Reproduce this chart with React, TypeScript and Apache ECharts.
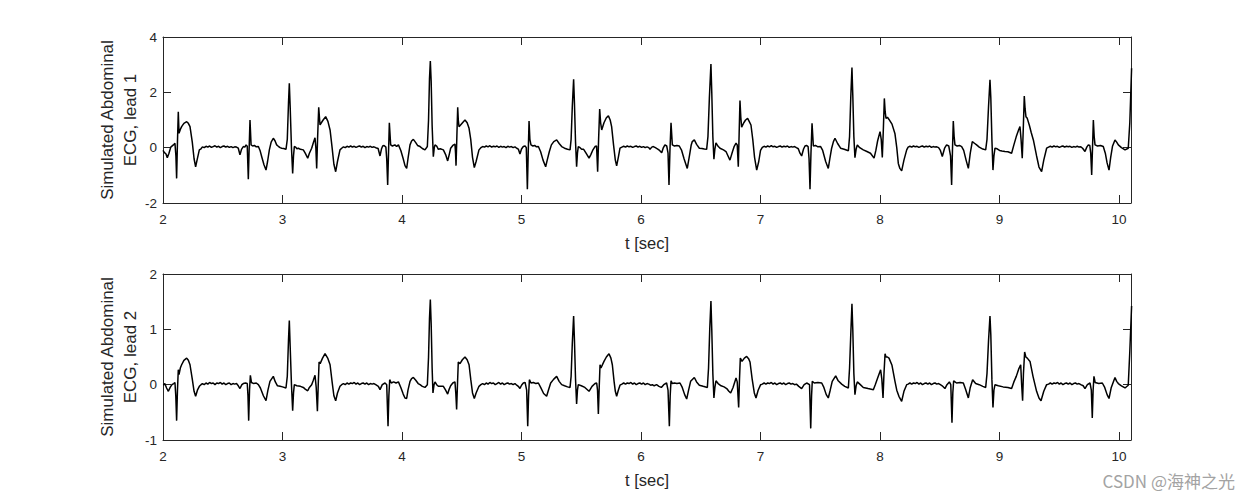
import React, { useEffect, useRef } from "react";
import * as echarts from "echarts";

// Simulated abdominal ECG, lead 1 : [t (sec), amplitude]
const lead1: [number, number][] = [
  [2.0,-0.1],[2.012,-0.18],[2.024,-0.22],[2.036,-0.36],[2.05,-0.2],[2.065,0.02],[2.087,0.1],[2.1,0.16],[2.108,-0.3],[2.114,-1.11],[2.121,0.2],[2.128,1.3],[2.134,0.52],[2.145,0.66],[2.156,0.76],[2.175,0.88],[2.198,0.94],[2.212,0.88],[2.226,0.76],[2.245,0.2],[2.26,-0.4],[2.273,-0.69],[2.285,-0.45],[2.304,-0.08],[2.318,-0.04],
  [2.33,0.03],[2.345,0.0],[2.36,0.05],[2.375,0.02],[2.39,0.06],[2.405,0.01],[2.42,0.04],[2.435,0.07],[2.45,0.02],[2.465,0.05],[2.48,0.0],[2.495,0.04],[2.51,0.06],[2.525,0.02],[2.54,0.05],[2.555,0.01],[2.57,0.04],[2.585,0.0],[2.6,0.03],[2.615,0.02],[2.63,-0.02],
  [2.644,-0.26],[2.658,-0.05],[2.672,0.04],[2.685,0.02],[2.695,0.1],[2.705,0.05],[2.714,-1.14],[2.721,0.0],[2.728,1.0],[2.737,0.1],[2.75,0.06],[2.765,0.08],[2.78,0.03],[2.798,0.04],[2.812,-0.1],[2.826,-0.33],[2.845,-0.62],[2.862,-0.81],[2.875,-0.5],[2.89,-0.08],[2.905,0.2],[2.923,0.34],[2.937,0.25],[2.951,0.1],[2.965,0.05],[2.98,0.0],[2.993,-0.02],[3.01,-0.03],[3.029,-0.06],[3.04,0.3],[3.05,1.6],[3.057,2.33],[3.064,1.5],[3.075,0.0],[3.085,-0.93],[3.092,-0.3],[3.099,0.04],[3.11,0.02],[3.12,-0.04],[3.133,-0.02],[3.15,-0.06],[3.174,-0.08],[3.19,-0.2],[3.211,-0.38],[3.225,-0.2],[3.244,-0.02],[3.258,0.18],[3.272,0.36],[3.279,0.0],[3.286,-0.75],[3.294,0.4],[3.303,1.46],[3.309,1.1],[3.314,0.82],[3.325,0.9],[3.34,1.0],[3.361,1.12],[3.38,0.95],[3.398,0.64],[3.415,0.0],[3.43,-0.6],[3.445,-0.87],[3.46,-0.5],[3.481,-0.08],[3.495,-0.02],
  [3.51,0.03],[3.525,0.0],[3.54,0.05],[3.555,0.02],[3.57,0.06],[3.585,0.02],[3.6,0.05],[3.615,0.01],[3.63,0.04],[3.645,0.06],[3.66,0.02],[3.675,0.05],[3.69,0.0],[3.705,0.04],[3.72,0.02],[3.735,0.05],[3.75,0.01],[3.765,0.03],[3.78,0.0],[3.8,-0.03],
  [3.816,-0.3],[3.828,-0.05],[3.838,0.06],[3.85,0.08],[3.865,0.02],[3.872,-0.4],[3.88,-1.35],[3.887,-0.2],[3.894,0.9],[3.905,0.1],[3.92,0.06],[3.94,0.1],[3.955,0.04],[3.97,0.1],[3.99,-0.1],[4.01,-0.4],[4.025,-0.65],[4.039,-0.75],[4.05,-0.4],[4.067,0.1],[4.08,0.24],[4.095,0.3],[4.115,0.18],[4.13,0.08],[4.151,0.04],[4.17,-0.03],[4.192,-0.08],[4.212,0.04],[4.222,1.0],[4.23,2.5],[4.237,3.13],[4.244,2.4],[4.252,0.8],[4.262,-0.33],[4.27,0.0],[4.276,0.1],[4.29,0.06],[4.304,-0.06],[4.32,-0.04],[4.346,-0.08],[4.365,-0.25],[4.382,-0.48],[4.395,-0.25],[4.407,-0.02],[4.425,0.08],[4.443,0.13],[4.448,-0.2],[4.452,-0.65],[4.459,0.4],[4.466,1.46],[4.471,1.0],[4.477,0.76],[4.49,0.82],[4.51,0.92],[4.527,1.0],[4.545,0.9],[4.561,0.7],[4.575,0.3],[4.59,-0.35],[4.605,-0.72],[4.62,-0.5],[4.644,-0.08],[4.66,0.0],
  [4.675,0.04],[4.69,0.02],[4.705,0.06],[4.72,0.03],[4.735,0.07],[4.75,0.02],[4.765,0.05],[4.78,0.03],[4.795,0.06],[4.81,0.01],[4.825,0.05],[4.84,0.02],[4.855,0.04],[4.87,0.0],[4.885,0.05],[4.9,0.02],[4.915,0.04],[4.93,0.0],[4.945,0.03],[4.96,-0.02],
  [4.973,-0.05],[4.987,-0.23],[5.0,-0.05],[5.015,0.04],[5.03,0.06],[5.04,0.0],[5.049,-1.5],[5.056,-0.2],[5.063,0.96],[5.07,0.3],[5.079,0.1],[5.095,0.06],[5.11,0.08],[5.125,0.03],[5.141,0.04],[5.16,-0.15],[5.18,-0.45],[5.202,-0.69],[5.215,-0.45],[5.233,-0.14],[5.25,0.1],[5.27,0.22],[5.294,0.28],[5.315,0.15],[5.336,0.04],[5.36,-0.02],[5.385,-0.06],[5.406,-0.08],[5.415,0.3],[5.425,1.5],[5.436,2.47],[5.443,1.6],[5.452,0.2],[5.461,-0.69],[5.468,-0.2],[5.475,0.04],[5.49,0.0],[5.503,-0.06],[5.52,-0.06],[5.54,-0.2],[5.565,-0.38],[5.58,-0.25],[5.595,-0.1],[5.615,0.04],[5.628,0.06],[5.637,-0.87],[5.645,0.3],[5.654,1.4],[5.662,0.9],[5.671,0.64],[5.69,0.9],[5.71,1.08],[5.727,1.15],[5.742,1.0],[5.754,0.76],[5.77,0.1],[5.785,-0.45],[5.796,-0.66],[5.81,-0.35],[5.824,-0.02],[5.84,0.02],
  [5.855,0.05],[5.87,0.02],[5.885,0.06],[5.9,0.03],[5.915,0.05],[5.93,0.01],[5.945,0.04],[5.96,0.06],[5.975,0.02],[5.99,0.05],[6.005,0.01],[6.02,0.04],[6.035,0.0],[6.05,0.03],[6.065,0.0],[6.075,-0.06],[6.09,0.02],[6.103,0.04],[6.12,0.0],[6.14,-0.05],[6.155,-0.1],[6.173,-0.18],[6.185,-0.02],[6.2,0.1],[6.215,0.06],[6.226,-0.2],[6.234,-1.35],[6.242,-0.1],[6.251,0.9],[6.262,0.1],[6.28,0.06],[6.3,0.08],[6.32,0.06],[6.34,-0.1],[6.36,-0.4],[6.387,-0.75],[6.405,-0.3],[6.42,0.1],[6.429,0.22],[6.446,0.28],[6.465,0.12],[6.488,-0.02],[6.51,-0.03],[6.53,-0.05],[6.549,-0.06],[6.56,0.4],[6.572,1.8],[6.585,3.02],[6.592,2.0],[6.601,0.4],[6.61,-0.42],[6.618,-0.05],[6.627,0.17],[6.645,0.05],[6.661,-0.02],[6.69,-0.08],[6.711,-0.14],[6.728,-0.3],[6.744,-0.45],[6.765,-0.15],[6.78,0.05],[6.795,0.16],[6.805,0.1],[6.814,-0.69],[6.821,0.5],[6.828,1.7],[6.835,1.1],[6.842,0.74],[6.86,0.9],[6.875,1.0],[6.892,1.06],[6.905,0.95],[6.92,0.82],[6.935,0.3],[6.95,-0.35],[6.968,-0.81],[6.985,-0.5],[7.0,-0.1],[7.015,0.01],
  [7.03,0.05],[7.045,0.02],[7.06,0.06],[7.075,0.03],[7.09,0.07],[7.105,0.03],[7.12,0.05],[7.135,0.01],[7.15,0.04],[7.165,0.06],[7.18,0.02],[7.195,0.05],[7.21,0.03],[7.225,0.06],[7.24,0.01],[7.255,0.04],[7.27,0.02],[7.285,0.04],[7.3,0.0],[7.316,-0.04],
  [7.33,-0.2],[7.344,-0.3],[7.36,-0.05],[7.372,0.06],[7.385,0.08],[7.398,0.04],[7.406,-0.4],[7.414,-1.5],[7.422,-0.2],[7.431,0.88],[7.442,0.06],[7.46,0.08],[7.48,0.03],[7.503,0.04],[7.52,-0.1],[7.545,-0.5],[7.567,-0.75],[7.58,-0.4],[7.595,-0.02],[7.61,0.22],[7.623,0.34],[7.645,0.15],[7.67,-0.02],[7.7,-0.06],[7.735,-0.11],[7.745,0.4],[7.755,1.8],[7.765,2.9],[7.772,1.9],[7.781,0.4],[7.79,-0.36],[7.8,-0.05],[7.81,0.1],[7.83,0.0],[7.86,-0.08],[7.89,-0.14],[7.92,-0.2],[7.95,-0.38],[7.965,-0.1],[7.98,0.25],[8.0,0.58],[8.01,0.3],[8.019,-0.35],[8.028,0.7],[8.036,1.78],[8.043,1.3],[8.05,1.06],[8.062,1.1],[8.075,1.02],[8.1,0.85],[8.125,0.5],[8.14,0.0],[8.153,-0.57],[8.166,-0.75],[8.181,-0.84],[8.2,-0.45],[8.223,-0.08],[8.235,0.02],
  [8.25,0.05],[8.265,0.02],[8.28,0.06],[8.295,0.03],[8.31,0.05],[8.325,0.01],[8.34,0.04],[8.355,0.06],[8.37,0.02],[8.385,0.05],[8.4,0.03],[8.415,0.06],[8.43,0.01],[8.445,0.04],[8.46,0.02],[8.475,0.03],[8.49,0.0],[8.505,-0.1],
  [8.521,-0.32],[8.54,-0.02],[8.557,0.1],[8.575,0.06],[8.59,-0.3],[8.599,-1.35],[8.606,-0.1],[8.613,0.96],[8.62,0.4],[8.627,0.1],[8.645,0.06],[8.665,0.08],[8.683,0.04],[8.7,-0.1],[8.72,-0.45],[8.739,-0.75],[8.755,-0.2],[8.772,0.22],[8.79,0.16],[8.808,0.1],[8.83,0.02],[8.86,-0.05],[8.884,-0.08],[8.895,0.3],[8.908,1.5],[8.92,2.45],[8.927,1.8],[8.936,0.3],[8.945,-0.81],[8.953,-0.3],[8.962,-0.02],[8.98,-0.04],[9.0,-0.1],[9.02,-0.12],[9.045,-0.14],[9.07,-0.15],[9.101,-0.2],[9.12,0.1],[9.14,0.4],[9.16,0.65],[9.171,0.76],[9.18,0.3],[9.19,-0.38],[9.198,0.6],[9.207,1.87],[9.214,1.4],[9.221,1.12],[9.232,1.06],[9.25,0.8],[9.265,0.55],[9.283,0.28],[9.31,-0.3],[9.33,-0.7],[9.352,-0.87],[9.37,-0.45],[9.394,-0.02],[9.41,0.02],
  [9.425,0.05],[9.44,0.02],[9.455,0.06],[9.47,0.03],[9.485,0.05],[9.5,0.01],[9.515,0.04],[9.53,0.06],[9.545,0.02],[9.56,0.05],[9.575,0.03],[9.59,0.05],[9.605,0.01],[9.62,0.04],[9.635,0.02],[9.65,0.05],[9.665,0.02],[9.68,0.03],[9.695,-0.02],
  [9.715,-0.14],[9.73,0.02],[9.743,0.1],[9.755,0.08],[9.763,-0.2],[9.771,-0.99],[9.778,0.0],[9.785,1.0],[9.792,0.4],[9.799,0.1],[9.82,0.06],[9.845,0.08],[9.868,0.04],[9.885,-0.2],[9.9,-0.55],[9.916,-0.81],[9.93,-0.35],[9.945,0.05],[9.966,0.28],[9.98,0.2],[9.994,0.1],[10.02,0.0],[10.05,-0.08],[10.077,-0.02],[10.09,0.9],[10.105,2.87],
];

// Simulated abdominal ECG, lead 2 : [t (sec), amplitude]
const lead2: [number, number][] = [
  [2.003,-0.01],[2.015,0.02],[2.03,-0.06],[2.045,-0.12],[2.06,-0.05],[2.075,0.0],[2.09,0.02],[2.1,0.04],[2.107,-0.2],[2.114,-0.65],[2.121,-0.1],[2.128,0.27],[2.134,0.18],[2.145,0.3],[2.156,0.36],[2.175,0.44],[2.198,0.48],[2.212,0.44],[2.226,0.36],[2.245,0.1],[2.26,-0.12],[2.273,-0.21],[2.288,-0.1],[2.304,-0.03],[2.318,0.0],
  [2.33,0.02],[2.345,0.0],[2.36,0.03],[2.375,0.01],[2.39,0.04],[2.405,0.02],[2.42,0.03],[2.435,0.0],[2.45,0.03],[2.465,0.02],[2.48,0.04],[2.495,0.01],[2.51,0.03],[2.525,0.0],[2.54,0.02],[2.555,0.03],[2.57,0.0],[2.585,0.02],[2.6,0.01],[2.615,0.02],[2.63,-0.02],
  [2.644,-0.07],[2.66,0.0],[2.672,0.02],[2.69,0.03],[2.705,0.02],[2.711,-0.2],[2.717,-0.65],[2.724,-0.1],[2.731,0.17],[2.74,0.04],[2.76,0.02],[2.78,0.03],[2.798,0.0],[2.815,-0.06],[2.84,-0.2],[2.862,-0.29],[2.878,-0.1],[2.895,0.06],[2.923,0.15],[2.94,0.05],[2.958,-0.02],[2.98,-0.03],[3.0,-0.04],[3.029,-0.06],[3.04,0.15],[3.05,0.8],[3.057,1.16],[3.064,0.7],[3.075,0.0],[3.085,-0.47],[3.092,-0.15],[3.099,0.0],[3.12,-0.02],[3.15,-0.03],[3.174,-0.05],[3.19,-0.08],[3.211,-0.11],[3.225,-0.05],[3.244,0.0],[3.258,0.08],[3.272,0.17],[3.282,-0.05],[3.292,-0.48],[3.299,0.0],[3.306,0.41],[3.315,0.38],[3.335,0.48],[3.356,0.56],[3.378,0.48],[3.398,0.36],[3.415,0.05],[3.43,-0.2],[3.445,-0.29],[3.46,-0.15],[3.481,-0.03],[3.495,0.0],
  [3.51,0.02],[3.525,0.0],[3.54,0.03],[3.555,0.01],[3.57,0.03],[3.585,0.02],[3.6,0.04],[3.615,0.01],[3.63,0.03],[3.645,0.0],[3.66,0.02],[3.675,0.03],[3.69,0.01],[3.705,0.03],[3.72,0.0],[3.735,0.02],[3.75,0.01],[3.765,0.02],[3.78,0.0],[3.802,-0.03],
  [3.816,-0.09],[3.835,0.0],[3.858,0.03],[3.872,0.0],[3.883,-0.75],[3.89,-0.2],[3.897,0.09],[3.91,0.03],[3.93,0.05],[3.95,0.03],[3.97,0.05],[3.99,-0.05],[4.01,-0.17],[4.025,-0.24],[4.039,-0.25],[4.05,-0.1],[4.067,0.06],[4.08,0.11],[4.095,0.13],[4.115,0.08],[4.135,0.02],[4.151,0.0],[4.17,-0.03],[4.192,-0.05],[4.212,0.0],[4.222,0.5],[4.23,1.2],[4.237,1.54],[4.244,1.1],[4.252,0.3],[4.259,-0.15],[4.268,0.0],[4.276,0.05],[4.29,0.0],[4.304,-0.03],[4.346,-0.03],[4.365,-0.1],[4.382,-0.17],[4.395,-0.08],[4.407,-0.02],[4.425,0.03],[4.443,0.05],[4.45,-0.15],[4.457,-0.45],[4.464,0.0],[4.471,0.41],[4.485,0.38],[4.505,0.45],[4.527,0.5],[4.545,0.45],[4.561,0.36],[4.575,0.1],[4.59,-0.15],[4.605,-0.25],[4.62,-0.15],[4.644,-0.03],[4.66,0.0],
  [4.675,0.02],[4.69,0.0],[4.705,0.03],[4.72,0.01],[4.735,0.04],[4.75,0.02],[4.765,0.03],[4.78,0.0],[4.795,0.02],[4.81,0.04],[4.825,0.01],[4.84,0.03],[4.855,0.0],[4.87,0.02],[4.885,0.03],[4.9,0.01],[4.915,0.02],[4.93,0.0],[4.945,0.02],[4.96,-0.01],
  [4.973,-0.03],[4.987,-0.07],[5.0,-0.01],[5.015,0.03],[5.03,0.04],[5.043,-0.1],[5.052,-0.75],[5.059,-0.2],[5.066,0.09],[5.079,0.03],[5.1,0.04],[5.12,0.02],[5.141,0.03],[5.16,-0.05],[5.185,-0.16],[5.21,-0.21],[5.225,-0.1],[5.244,0.03],[5.27,0.1],[5.294,0.15],[5.315,0.06],[5.336,0.0],[5.36,-0.02],[5.385,-0.04],[5.406,-0.05],[5.415,0.15],[5.425,0.75],[5.436,1.24],[5.443,0.8],[5.452,0.1],[5.461,-0.35],[5.468,-0.1],[5.475,0.0],[5.5,-0.02],[5.53,-0.05],[5.565,-0.12],[5.59,-0.03],[5.615,0.02],[5.629,0.03],[5.636,-0.1],[5.643,-0.53],[5.65,-0.05],[5.657,0.36],[5.665,0.3],[5.69,0.42],[5.71,0.5],[5.732,0.56],[5.748,0.48],[5.76,0.36],[5.775,0.05],[5.785,-0.12],[5.796,-0.21],[5.81,-0.1],[5.824,-0.01],[5.84,0.01],
  [5.855,0.03],[5.87,0.01],[5.885,0.03],[5.9,0.02],[5.915,0.04],[5.93,0.01],[5.945,0.03],[5.96,0.0],[5.975,0.02],[5.99,0.03],[6.005,0.01],[6.02,0.03],[6.035,0.0],[6.05,0.02],[6.065,0.01],[6.08,-0.01],[6.095,0.0],[6.11,-0.02],[6.13,0.0],[6.15,-0.03],[6.17,-0.05],[6.19,0.0],
  [6.214,0.03],[6.226,-0.1],[6.237,-0.75],[6.244,-0.2],[6.251,0.07],[6.262,0.02],[6.28,0.03],[6.3,0.02],[6.326,0.03],[6.345,-0.05],[6.365,-0.18],[6.382,-0.26],[6.398,-0.1],[6.415,0.06],[6.446,0.13],[6.465,0.05],[6.488,-0.01],[6.52,-0.03],[6.555,-0.05],[6.565,0.3],[6.575,1.0],[6.585,1.51],[6.592,1.0],[6.601,0.2],[6.61,-0.24],[6.618,-0.05],[6.627,0.07],[6.645,0.02],[6.67,-0.02],[6.695,-0.04],[6.717,-0.07],[6.735,-0.12],[6.75,-0.15],[6.77,-0.05],[6.795,0.12],[6.805,0.05],[6.817,-0.41],[6.824,0.1],[6.831,0.48],[6.845,0.42],[6.865,0.48],[6.884,0.51],[6.9,0.47],[6.912,0.41],[6.93,0.1],[6.948,-0.15],[6.962,-0.24],[6.98,-0.1],[7.001,0.0],[7.015,0.01],
  [7.03,0.03],[7.045,0.01],[7.06,0.03],[7.075,0.02],[7.09,0.04],[7.105,0.01],[7.12,0.03],[7.135,0.0],[7.15,0.02],[7.165,0.03],[7.18,0.01],[7.195,0.03],[7.21,0.0],[7.225,0.02],[7.24,0.03],[7.255,0.01],[7.27,0.02],[7.285,0.0],[7.3,0.01],[7.32,-0.03],
  [7.344,-0.07],[7.365,0.0],[7.386,0.03],[7.41,0.0],[7.42,-0.79],[7.427,-0.2],[7.433,0.06],[7.45,0.03],[7.48,0.04],[7.512,0.03],[7.53,-0.05],[7.55,-0.18],[7.567,-0.24],[7.583,-0.1],[7.6,0.06],[7.629,0.16],[7.65,0.07],[7.679,0.01],[7.705,-0.03],[7.735,-0.06],[7.745,0.3],[7.755,0.9],[7.765,1.46],[7.772,1.0],[7.781,0.2],[7.79,-0.18],[7.8,-0.02],[7.81,0.05],[7.835,0.0],[7.86,-0.05],[7.9,-0.07],[7.944,-0.09],[7.96,0.0],[7.98,0.12],[8.005,0.27],[8.015,0.1],[8.025,-0.24],[8.033,0.2],[8.042,0.56],[8.05,0.5],[8.062,0.5],[8.075,0.48],[8.1,0.35],[8.125,0.06],[8.14,-0.1],[8.158,-0.21],[8.181,-0.3],[8.2,-0.12],[8.223,0.0],[8.235,0.01],
  [8.25,0.03],[8.265,0.01],[8.28,0.03],[8.295,0.02],[8.31,0.04],[8.325,0.01],[8.34,0.03],[8.355,0.0],[8.37,0.02],[8.385,0.03],[8.4,0.01],[8.415,0.03],[8.43,0.0],[8.445,0.02],[8.46,0.03],[8.475,0.01],[8.49,0.02],[8.505,0.0],[8.52,-0.02],
  [8.543,-0.07],[8.56,0.0],[8.58,0.05],[8.592,0.0],[8.602,-0.69],[8.609,-0.15],[8.616,0.07],[8.64,0.03],[8.67,0.04],[8.697,0.03],[8.715,-0.08],[8.739,-0.24],[8.755,-0.05],[8.775,0.09],[8.8,0.02],[8.83,0.0],[8.86,-0.03],[8.884,-0.05],[8.895,0.2],[8.908,0.8],[8.92,1.24],[8.927,0.9],[8.936,0.1],[8.945,-0.41],[8.953,-0.1],[8.962,0.0],[8.99,-0.02],[9.03,-0.04],[9.07,-0.05],[9.101,-0.07],[9.12,0.05],[9.14,0.15],[9.16,0.28],[9.177,0.36],[9.185,0.0],[9.193,-0.29],[9.2,0.2],[9.21,0.59],[9.22,0.5],[9.232,0.48],[9.255,0.42],[9.28,0.15],[9.31,-0.12],[9.33,-0.24],[9.347,-0.29],[9.37,-0.12],[9.394,0.0],[9.41,0.01],
  [9.425,0.03],[9.44,0.01],[9.455,0.03],[9.47,0.02],[9.485,0.04],[9.5,0.01],[9.515,0.03],[9.53,0.0],[9.545,0.02],[9.56,0.03],[9.575,0.01],[9.59,0.03],[9.605,0.0],[9.62,0.02],[9.635,0.03],[9.65,0.01],[9.665,0.02],[9.68,0.0],[9.7,-0.02],
  [9.715,-0.07],[9.735,0.0],[9.757,0.03],[9.768,-0.1],[9.776,-0.6],[9.783,-0.1],[9.79,0.15],[9.8,0.04],[9.83,0.02],[9.86,0.03],[9.88,-0.05],[9.9,-0.18],[9.916,-0.25],[9.935,-0.05],[9.966,0.13],[9.98,0.06],[9.994,0.02],[10.02,-0.02],[10.05,-0.06],[10.077,-0.01],[10.09,0.6],[10.105,1.42],
];

const tRange = [2, 10.1];
const tInterval = 1;
const lead1Range = [-2, 4];
const lead1Interval = 2;
const lead2Range = [-1, 2];
const lead2Interval = 1;
const xName = "t [sec]";
const yNames = ["Simulated Abdominal\nECG, lead 1", "Simulated Abdominal\nECG, lead 2"];
const watermark = "CSDN @海神之光";

const AX = "#262626";
const FONT = "'Liberation Sans', Arial, Helvetica, sans-serif";

const GRID_LEFT = 163;
const GRID_W = 968;
const GRID_H = 166;
const GRID_TOPS = [37, 274];

function xAxes(gridIndex: number) {
  const base = {
    type: "value" as const,
    gridIndex,
    min: tRange[0],
    max: tRange[1],
    interval: tInterval,
    splitLine: { show: false },
    axisLine: { show: true, onZero: false, lineStyle: { color: AX, width: 1 } },
    axisTick: { show: true, inside: true, length: 8, lineStyle: { color: AX, width: 1 } },
  };
  return [
    {
      ...base,
      position: "bottom",
      axisLabel: {
        show: true,
        color: AX,
        fontSize: 13.5,
        fontFamily: FONT,
        margin: 9,
        showMaxLabel: false,
        formatter: (v: number) => (Math.abs(v - Math.round(v)) < 1e-9 ? String(Math.round(v)) : ""),
      },
    },
    { ...base, position: "top", axisLabel: { show: false } },
  ];
}

function yAxes(gridIndex: number, range: number[], interval: number) {
  const base = {
    type: "value" as const,
    gridIndex,
    min: range[0],
    max: range[1],
    interval,
    splitLine: { show: false },
    axisLine: { show: true, onZero: false, lineStyle: { color: AX, width: 1 } },
    axisTick: { show: true, inside: true, length: 8, lineStyle: { color: AX, width: 1 } },
  };
  return [
    {
      ...base,
      position: "left",
      axisLabel: { show: true, color: AX, fontSize: 13.5, fontFamily: FONT, margin: 6 },
    },
    { ...base, position: "right", axisLabel: { show: false } },
  ];
}

export default function App() {
  const ref = useRef<HTMLDivElement>(null);

  useEffect(() => {
    if (!ref.current) return;
    const chart = echarts.init(ref.current, undefined, { renderer: "svg" });

    const graphics: any[] = [];
    GRID_TOPS.forEach((top, i) => {
      graphics.push({
        type: "text",
        x: 119,
        y: top + GRID_H / 2,
        rotation: Math.PI / 2,
        style: {
          text: yNames[i],
          fill: AX,
          font: `17px ${FONT}`,
          textAlign: "center",
          textVerticalAlign: "middle",
          lineHeight: 23,
        },
      });
      graphics.push({
        type: "text",
        x: GRID_LEFT + GRID_W / 2,
        y: top + GRID_H + 40,
        style: {
          text: xName,
          fill: AX,
          font: `16.5px ${FONT}`,
          textAlign: "center",
          textVerticalAlign: "middle",
        },
      });
    });
    graphics.push({
      type: "text",
      x: 1235,
      y: 480,
      style: {
        text: watermark,
        fill: "#a3a3a3",
        font: "17px 'Noto Sans CJK SC', 'Liberation Sans', sans-serif",
        textAlign: "right",
        textVerticalAlign: "middle",
      },
    });

    chart.setOption({
      animation: false,
      backgroundColor: "#ffffff",
      grid: GRID_TOPS.map((top) => ({
        left: GRID_LEFT,
        top,
        width: GRID_W,
        height: GRID_H,
        containLabel: false,
      })),
      xAxis: [...xAxes(0), ...xAxes(1)],
      yAxis: [
        ...yAxes(0, lead1Range, lead1Interval),
        ...yAxes(1, lead2Range, lead2Interval),
      ],
      series: [
        {
          type: "line",
          xAxisIndex: 0,
          yAxisIndex: 0,
          data: lead1,
          symbol: "none",
          showSymbol: false,
          clip: true,
          lineStyle: { color: "#000000", width: 1.5 },
        },
        {
          type: "line",
          xAxisIndex: 2,
          yAxisIndex: 2,
          data: lead2,
          symbol: "none",
          showSymbol: false,
          clip: true,
          lineStyle: { color: "#000000", width: 1.5 },
        },
      ],
      graphic: graphics,
    });

    return () => chart.dispose();
  }, []);

  return (
    <div
      ref={ref}
      style={{ position: "fixed", left: 0, top: 0, width: 1250, height: 500, background: "#fff" }}
    />
  );
}
